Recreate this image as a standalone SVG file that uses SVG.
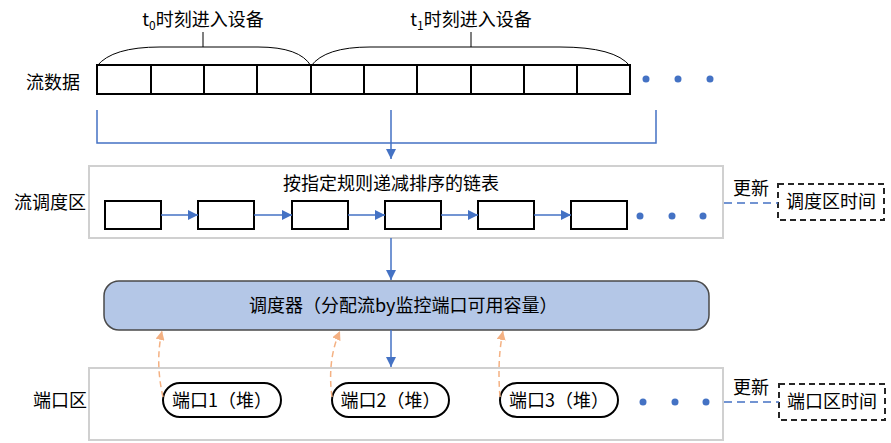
<svg xmlns="http://www.w3.org/2000/svg" width="891" height="443" viewBox="0 0 891 443">
<style>
text{font-family:"Noto Sans CJK SC","Microsoft YaHei",sans-serif;font-size:18px;fill:#000}
.mid{text-anchor:middle}
.end{text-anchor:end}
.cell{fill:#fff;stroke:#000;stroke-width:2}
.region{fill:#fff;stroke:#d0d0d0;stroke-width:2}
.blue{fill:none;stroke:#4472c4;stroke-width:1.5}
.brace{fill:none;stroke:#000;stroke-width:1}
.dot{fill:#4472c4}
.orange{fill:none;stroke:#f4b183;stroke-width:1.5;stroke-dasharray:6 4}
.dashbox{fill:#fff;stroke:#262626;stroke-width:2;stroke-dasharray:6 4}
.dashline{fill:none;stroke:#4472c4;stroke-width:1.5;stroke-dasharray:8 5}
.pill{fill:#fff;stroke:#000;stroke-width:2}
</style>
<defs>
<marker id="ab" viewBox="0 0 10 10" refX="10" refY="5" markerWidth="10" markerHeight="10" markerUnits="userSpaceOnUse" orient="auto">
<path d="M0,0 L10,5 L0,10 Z" fill="#4472c4"/>
</marker>
<marker id="ao" viewBox="0 0 10 10" refX="10" refY="5" markerWidth="9" markerHeight="9" markerUnits="userSpaceOnUse" orient="auto">
<path d="M0,0 L10,5 L0,10 Z" fill="#f4b183"/>
</marker>
</defs>

<!-- labels on the left -->
<text x="80" y="88.5" class="end">流数据</text>
<text x="86" y="209" class="end">流调度区</text>
<text x="87" y="406.5" class="end">端口区</text>

<!-- stream data -->
<g id="stream">
<rect x="97" y="65" width="533" height="29" class="cell"/>
<path d="M151,65V94 M204,65V94 M257,65V94 M311,65V94 M364,65V94 M417,65V94 M471,65V94 M524,65V94 M577,65V94" stroke="#000" stroke-width="2"/>
<circle cx="646" cy="79" r="3.5" class="dot"/>
<circle cx="678" cy="79" r="3.5" class="dot"/>
<circle cx="710" cy="79" r="3.5" class="dot"/>
</g>

<g id="brace0">
<path d="M97,66 Q112,47 160,47 L258,47 Q300,47 311,66 M203,47 V32" class="brace"/>
<text x="203" y="26" class="mid">t<tspan font-size="12" dy="4">0</tspan><tspan dy="-4">时刻进入设备</tspan></text>
</g>
<g id="brace1">
<path d="M311,66 Q325,47 370,47 L560,47 Q615,47 630,66 M471,47 V32" class="brace"/>
<text x="471" y="26" class="mid">t<tspan font-size="12" dy="4">1</tspan><tspan dy="-4">时刻进入设备</tspan></text>
</g>

<!-- flow scheduling region -->
<g id="flowRegion">
<rect x="89" y="166" width="634" height="72" class="region"/>
<text x="391" y="190" class="mid">按指定规则递减排序的链表</text>
<rect x="105" y="201" width="56" height="28" class="cell"/>
<rect x="198" y="201" width="56" height="28" class="cell"/>
<rect x="292" y="201" width="56" height="28" class="cell"/>
<rect x="385" y="201" width="56" height="28" class="cell"/>
<rect x="478" y="201" width="56" height="28" class="cell"/>
<rect x="571" y="201" width="56" height="28" class="cell"/>
<circle cx="640" cy="216" r="3.5" class="dot"/>
<circle cx="672" cy="216" r="3.5" class="dot"/>
<circle cx="703" cy="216" r="3.5" class="dot"/>
</g>

<g id="flowTime">
<text x="751" y="195" class="mid">更新</text>
<rect x="778" y="184" width="106" height="36" class="dashbox"/>
<text x="831" y="208" class="mid">调度区时间</text>
</g>

<!-- scheduler -->
<g id="scheduler">
<rect x="104" y="281" width="605" height="49" rx="15" fill="#b4c7e7" stroke="#4a4a4a" stroke-width="1.5"/>
<text x="249" y="312">调度器（分配流by监控端口可用容量）</text>
</g>

<!-- port region -->
<g id="portRegion">
<rect x="89" y="368" width="634" height="72" class="region"/>
<circle cx="643" cy="402" r="3.5" class="dot"/>
<circle cx="675" cy="402" r="3.5" class="dot"/>
<circle cx="706" cy="402" r="3.5" class="dot"/>
</g>
<g id="port1">
<rect x="163" y="383" width="118" height="34" rx="17" class="pill"/>
<text x="222" y="406.5" class="mid">端口1（堆）</text>
</g>
<g id="port2">
<rect x="332" y="383" width="117" height="34" rx="17" class="pill"/>
<text x="390.5" y="406.5" class="mid">端口2（堆）</text>
</g>
<g id="port3">
<rect x="500" y="383" width="118" height="34" rx="17" class="pill"/>
<text x="559" y="406.5" class="mid">端口3（堆）</text>
</g>

<g id="portTime">
<text x="751" y="394" class="mid">更新</text>
<rect x="779" y="384" width="106" height="36" class="dashbox"/>
<text x="832" y="408" class="mid">端口区时间</text>
</g>

<!-- connectors -->
<g id="connectors">
<path d="M97,110 V143 H656 V110 M391,110 V143" class="blue"/>
<path d="M391,143 V159" class="blue" marker-end="url(#ab)"/>
<path d="M161,215 H198" class="blue" marker-end="url(#ab)"/>
<path d="M254,215 H292" class="blue" marker-end="url(#ab)"/>
<path d="M348,215 H385" class="blue" marker-end="url(#ab)"/>
<path d="M441,215 H478" class="blue" marker-end="url(#ab)"/>
<path d="M534,215 H571" class="blue" marker-end="url(#ab)"/>
<path d="M391,238 V280" class="blue" marker-end="url(#ab)"/>
<path d="M391,330 V367" class="blue" marker-end="url(#ab)"/>
<path d="M724,203 H778" class="dashline"/>
<path d="M724,402 H779" class="dashline"/>
<path d="M163,397 Q155,362 162,331" class="orange" marker-end="url(#ao)"/>
<path d="M332,397 Q327,360 340,331" class="orange" marker-end="url(#ao)"/>
<path d="M500,397 Q497,360 503,331" class="orange" marker-end="url(#ao)"/>
</g>
</svg>
